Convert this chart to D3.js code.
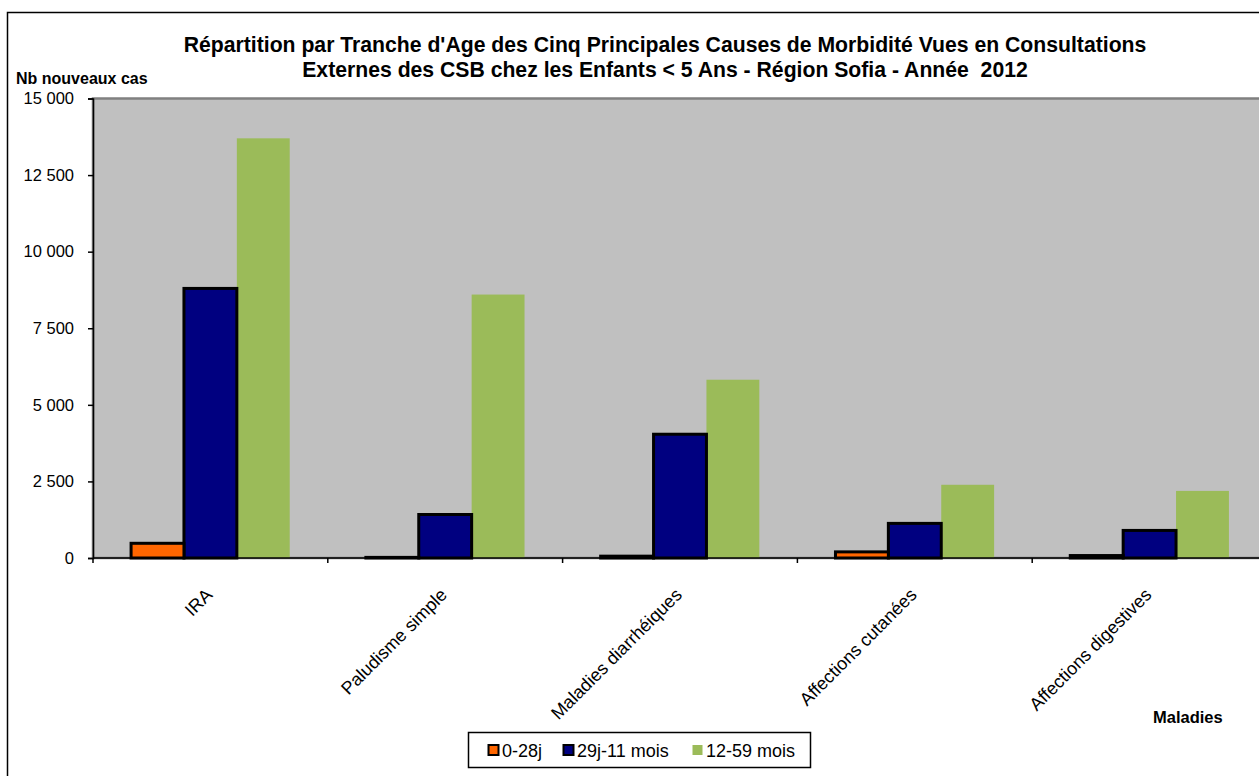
<!DOCTYPE html>
<html>
<head>
<meta charset="utf-8">
<script src="https://cdn.jsdelivr.net/npm/d3@7"></script>
<style>
  html, body { margin: 0; padding: 0; background: #ffffff; }
  svg { display: block; font-family: "Liberation Sans", Arial, sans-serif; }
</style>
</head>
<body>
<svg id="chart" width="1259" height="776"></svg>
<script>
// ---- Data ----
const categories = ["IRA", "Paludisme simple", "Maladies diarrhéiques", "Affections cutanées", "Affections digestives"];
const seriesNames = ["0-28j", "29j-11 mois", "12-59 mois"];
const values_0_28j = [480, 20, 60, 200, 80];
const values_29j_11mois = [8800, 1420, 4040, 1130, 900];
const values_12_59mois = [13700, 8600, 5820, 2390, 2190];
const yTicks = [0, 2500, 5000, 7500, 10000, 12500, 15000];
const titleLines = [
  "Répartition par Tranche d'Age des Cinq Principales Causes de Morbidité Vues en Consultations",
  "Externes des CSB chez les Enfants < 5 Ans - Région Sofia - Année  2012"
];
const yAxisTitle = "Nb nouveaux cas";
const xAxisTitle = "Maladies";

const seriesValues = [values_0_28j, values_29j_11mois, values_12_59mois];
const colors = ["#FF6600", "#000080", "#9BBB59"];
const strokes = ["#000000", "#000000", "none"];

const svg = d3.select("#chart");

// outer frame
svg.append("rect").attr("x", 7.5).attr("y", 12.5).attr("width", 1280).attr("height", 800)
  .attr("fill", "#ffffff").attr("stroke", "#000").attr("stroke-width", 1.5);

const plot = { left: 93, right: 1267, top: 98.5, bottom: 558 };

const x0 = d3.scaleBand().domain(categories).range([plot.left, plot.right]).paddingInner(0).paddingOuter(0);
const x1 = d3.scaleBand().domain(seriesNames).range([0, x0.bandwidth()]).paddingInner(0).paddingOuter(0.72);
const y = d3.scaleLinear().domain([0, 15000]).range([plot.bottom, plot.top]);

// plot area
svg.append("rect").attr("x", plot.left).attr("y", plot.top)
  .attr("width", plot.right - plot.left).attr("height", plot.bottom - plot.top)
  .attr("fill", "#C0C0C0").attr("stroke", "#808080").attr("stroke-width", 2.5);

// bars
const rows = [];
categories.forEach((c, i) => seriesNames.forEach((s, j) => rows.push({ c, s, j, v: seriesValues[j][i] })));
const order = [2, 1, 0];
order.forEach(j => {
  svg.append("g").selectAll("rect").data(rows.filter(r => r.j === j)).join("rect")
    .attr("x", d => x0(d.c) + x1(d.s))
    .attr("y", d => y(d.v))
    .attr("width", x1.bandwidth())
    .attr("height", d => y(0) - y(d.v))
    .attr("fill", colors[j])
    .attr("stroke", strokes[j])
    .attr("stroke-width", 3);
});

// y axis
const fmtLocale = d3.formatLocale({ decimal: ",", thousands: " ", grouping: [3], currency: ["", ""] });
const fmt = fmtLocale.format(",d");
const yAxis = d3.axisLeft(y).tickValues(yTicks).tickFormat(fmt).tickSize(5).tickPadding(14);
const gy = svg.append("g").attr("transform", `translate(${plot.left},0)`).call(yAxis);
gy.select(".domain").attr("stroke", "#000").attr("stroke-width", 1.5);
gy.selectAll(".tick line").attr("stroke", "#000").attr("stroke-width", 1.5);
gy.selectAll(".tick text").attr("font-size", 16.5).attr("fill", "#000")
  .attr("font-family", "Liberation Sans, Arial, sans-serif");

// x axis
const gx = svg.append("g").attr("transform", `translate(0,${plot.bottom})`);
gx.append("line").attr("x1", plot.left).attr("x2", plot.right).attr("stroke", "#000").attr("stroke-width", 1.5);
const boundaries = categories.map(c => x0(c)).concat([plot.right]);
gx.selectAll("line.tk").data(boundaries).join("line").attr("class", "tk")
  .attr("x1", d => d).attr("x2", d => d).attr("y1", 0).attr("y2", 5)
  .attr("stroke", "#000").attr("stroke-width", 1.5);
svg.append("g").selectAll("text").data(categories).join("text")
  .attr("transform", d => `translate(${x0(d) + x0.bandwidth() / 2 + 3},596) rotate(-45)`)
  .attr("text-anchor", "end")
  .attr("font-size", 18)
  .attr("fill", "#000")
  .text(d => d);

// titles
svg.append("g").selectAll("text").data(titleLines).join("text")
  .attr("x", 665).attr("y", (d, i) => 52 + i * 25)
  .attr("text-anchor", "middle").attr("font-weight", "bold").attr("font-size", 21.2)
  .attr("fill", "#000").attr("xml:space", "preserve").style("white-space", "pre").text(d => d);

svg.append("text").attr("x", 16).attr("y", 84).attr("font-weight", "bold").attr("font-size", 16)
  .attr("fill", "#000").text(yAxisTitle);
svg.append("text").attr("x", 1153).attr("y", 723).attr("font-weight", "bold").attr("font-size", 16.5)
  .attr("fill", "#000").text(xAxisTitle);

// legend
const lg = svg.append("g");
lg.append("rect").attr("x", 468.5).attr("y", 732.5).attr("width", 342).attr("height", 35)
  .attr("fill", "#fff").attr("stroke", "#000").attr("stroke-width", 1.5);
const legendX = [488, 563, 692];
seriesNames.forEach((s, j) => {
  const g = lg.append("g").attr("transform", `translate(${legendX[j]},750)`);
  g.append("rect").attr("x", 0.5).attr("y", -5).attr("width", 10).attr("height", 10)
    .attr("fill", colors[j]).attr("stroke", strokes[j] === "none" ? "none" : "#000").attr("stroke-width", 2);
  g.append("text").attr("x", 14).attr("y", 6.5).attr("font-size", 18).attr("fill", "#000").text(s);
});
</script>
</body>
</html>
